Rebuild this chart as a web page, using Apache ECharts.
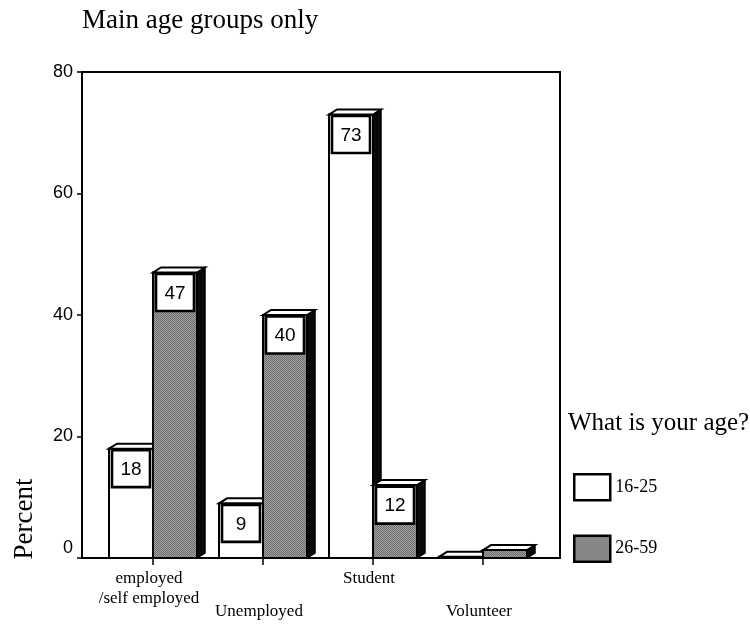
<!DOCTYPE html>
<html>
<head>
<meta charset="utf-8">
<script src="https://cdn.jsdelivr.net/npm/echarts@6/dist/echarts.min.js"></script>
<style>
  html, body { margin: 0; padding: 0; background: #fff; }
  #chart { width: 750px; height: 624px; }
</style>
</head>
<body>
<div id="chart"></div>
<script>
// Employment status by age group (percent)
const categories = ['employed\n/self employed', 'Unemployed', 'Student', 'Volunteer'];
const seriesNames = ['16-25', '26-59'];
const age16to25 = [18, 9, 73, 0.2];
const age26to59 = [47, 40, 12, 1.3];
const yTickValues = [0, 20, 40, 60, 80];

const SERIF = '"Liberation Serif", "Times New Roman", serif';
const SANS = '"Liberation Sans", Arial, sans-serif';
const DEPTH_X = 8;   // 3D extrusion to the right
const DEPTH_Y = 5;   // 3D extrusion upwards

// fine stipple used for the older age group
function stippleTile() {
  const c = document.createElement('canvas');
  c.width = c.height = 4;
  const g = c.getContext('2d');
  g.fillStyle = '#a2a2a2';
  g.fillRect(0, 0, 4, 4);
  g.fillStyle = '#6c6c6c';
  for (let y = 0; y < 4; y++)
    for (let x = 0; x < 4; x++)
      if ((x + y) % 2 === 0) g.fillRect(x, y, 1, 1);
  return c;
}
const stipple = { image: stippleTile(), repeat: 'repeat' };

// draws one extruded bar with a boxed value label near its top
function barRenderer(slot, fill) {
  return function (params, api) {
    const i = api.value(0);
    const v = api.value(1);
    const base = api.coord([i, 0]);
    const top = api.coord([i, v]);
    const band = api.size([1, 0])[0];
    const w = band * 0.4;
    const x0 = slot === 0 ? base[0] - w : base[0];
    const x1 = x0 + w;
    const yT = top[1];
    const yB = base[1];
    const children = [
      {
        type: 'polygon',
        shape: { points: [[x1, yT], [x1 + DEPTH_X, yT - DEPTH_Y], [x1 + DEPTH_X, yB - DEPTH_Y], [x1, yB]] },
        style: { fill: '#0a0a0a', stroke: '#000', lineWidth: 1.5 }
      },
      {
        type: 'rect',
        shape: { x: x0, y: yT, width: w, height: yB - yT },
        style: { fill: fill, stroke: '#000', lineWidth: 2 }
      },
      {
        type: 'polygon',
        shape: { points: [[x0, yT], [x0 + DEPTH_X, yT - DEPTH_Y], [x1 + DEPTH_X, yT - DEPTH_Y], [x1, yT]] },
        style: { fill: '#fff', stroke: '#000', lineWidth: 2 }
      }
    ];
    if (v >= 5) {
      children.push({
        type: 'rect',
        shape: { x: x0 + 3, y: yT + 1.5, width: w - 6, height: 37 },
        style: { fill: '#fff', stroke: '#000', lineWidth: 2.6 }
      });
      children.push({
        type: 'text',
        x: (x0 + x1) / 2,
        y: yT + 21,
        style: {
          text: String(v),
          fill: '#000',
          fontSize: 19,
          fontFamily: SANS,
          align: 'center',
          verticalAlign: 'middle'
        }
      });
    }
    return { type: 'group', children: children };
  };
}

const chart = echarts.init(document.getElementById('chart'), null, { renderer: 'canvas' });

chart.setOption({
  backgroundColor: '#fff',
  animation: false,
  title: [
    {
      text: 'Main age groups only',
      left: 82, top: 7, padding: 0,
      textStyle: { fontFamily: SERIF, fontSize: 27, fontWeight: 'normal', color: '#000' }
    },
    {
      text: 'What is your age?',
      left: 568, top: 411, padding: 0,
      textStyle: { fontFamily: SERIF, fontSize: 25, fontWeight: 'normal', color: '#000' }
    }
  ],
  legend: {
    orient: 'vertical',
    left: 573, top: 473, padding: 0,
    itemWidth: 36, itemHeight: 26, itemGap: 33,
    textStyle: { fontFamily: SERIF, fontSize: 18, color: '#000' },
    data: [
      { name: seriesNames[0], icon: 'rect', itemStyle: { color: '#fff', borderColor: '#000', borderWidth: 2.5 } },
      { name: seriesNames[1], icon: 'rect', itemStyle: { color: stipple, borderColor: '#000', borderWidth: 2.5 } }
    ]
  },
  graphic: [
    {
      type: 'text',
      x: 25, y: 519,
      rotation: Math.PI / 2,
      style: {
        text: 'Percent',
        fill: '#000',
        fontSize: 27,
        fontFamily: SERIF,
        align: 'center',
        verticalAlign: 'middle'
      }
    }
  ],
  grid: [
    { left: 82, right: 190, top: 72, bottom: 66, show: true, borderColor: '#000', borderWidth: 2, backgroundColor: 'transparent' },
    { left: 98, right: 212, top: 72, bottom: 66 }
  ],
  xAxis: [
    { type: 'value', gridIndex: 0, show: false, min: 0, max: 1 },
    {
      type: 'category',
      gridIndex: 1,
      data: categories,
      axisLine: { show: false },
      axisTick: { show: true, alignWithLabel: true, length: 7, lineStyle: { color: '#000', width: 1.5 } },
      axisLabel: {
        interval: 0,
        hideOverlap: false,
        margin: 11,
        color: '#000',
        fontFamily: SERIF,
        fontSize: 17,
        lineHeight: 20,
        padding: [0, 8, 0, 0],
        // every second category label sits one step lower
        formatter: function (value, index) {
          return index % 2 ? '{gap| }\n{lo|' + value + '}' : value;
        },
        rich: {
          gap: { fontSize: 10, lineHeight: 33 },
          lo: { fontFamily: SERIF, fontSize: 17, color: '#000', lineHeight: 20 }
        }
      }
    }
  ],
  yAxis: [
    {
      type: 'value',
      gridIndex: 0,
      min: yTickValues[0],
      max: yTickValues[yTickValues.length - 1],
      interval: yTickValues[1] - yTickValues[0],
      axisLine: { show: true, lineStyle: { color: '#000', width: 2 } },
      axisTick: { show: true, length: 5, lineStyle: { color: '#000', width: 1.5 } },
      splitLine: { show: false },
      axisLabel: {
        margin: 9,
        color: '#000',
        fontFamily: SANS,
        fontSize: 18,
        formatter: function (v) { return v === 0 ? '{z|0}' : String(v); },
        rich: { z: { fontFamily: SANS, fontSize: 18, color: '#000', padding: [0, 0, 20, 0] } }
      }
    },
    {
      type: 'value',
      gridIndex: 1,
      show: false,
      min: yTickValues[0],
      max: yTickValues[yTickValues.length - 1]
    }
  ],
  series: [
    {
      name: seriesNames[0],
      type: 'custom',
      xAxisIndex: 1,
      yAxisIndex: 1,
      itemStyle: { color: '#fff' },
      renderItem: barRenderer(0, '#fff'),
      encode: { x: 0, y: 1 },
      data: age16to25.map(function (v, i) { return [i, v]; })
    },
    {
      name: seriesNames[1],
      type: 'custom',
      xAxisIndex: 1,
      yAxisIndex: 1,
      itemStyle: { color: '#8c8c8c' },
      renderItem: barRenderer(1, stipple),
      encode: { x: 0, y: 1 },
      data: age26to59.map(function (v, i) { return [i, v]; })
    }
  ]
});
</script>
</body>
</html>
